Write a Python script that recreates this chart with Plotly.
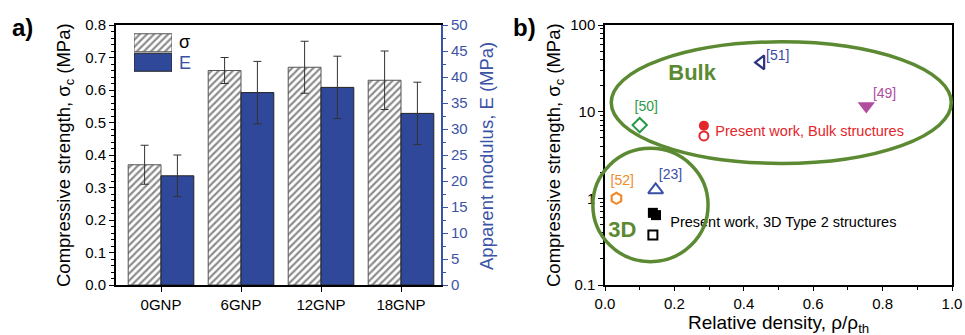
import numpy as np
import plotly.graph_objects as go

# ---------------- data ----------------
categories = ["0GNP", "6GNP", "12GNP", "18GNP"]
sigma = [0.37, 0.66, 0.67, 0.63]
sigma_err = [0.06, 0.04, 0.08, 0.09]
modulus = [21, 37, 38, 33]
modulus_err = [4, 6, 6, 6]

left_ticks = [0.0, 0.1, 0.2, 0.3, 0.4, 0.5, 0.6, 0.7, 0.8]
right_ticks = list(range(0, 55, 5))

# panel b points
ref51_x, ref51_y = [0.45], [37]
ref49_x, ref49_y = [0.753], [11.6]
ref50_x, ref50_y = [0.10], [7.0]
bulk_f_x, bulk_f_y = [0.285], [6.9]
bulk_o_x, bulk_o_y = [0.285], [5.25]
ref52_x, ref52_y = [0.033], [1.0]
ref23_x, ref23_y = [0.146], [1.25]
d3_f_x, d3_f_y = [0.138, 0.147], [0.68, 0.64]
d3_o_x, d3_o_y = [0.138], [0.377]

labels_b = [
    ("[51]", 0.464, 43.2, "#3b4aa3", 14),
    ("[49]", 0.772, 15.6, "#b04d9f", 14),
    ("[50]", 0.085, 11.1, "#2e9a4a", 14),
    ("Present work, Bulk structures", 0.318, 5.73, "#e42529", 14.5),
    ("[52]", 0.016, 1.57, "#f08a2a", 14),
    ("[23]", 0.155, 1.84, "#3b4fa8", 14),
    ("Present work, 3D Type 2 structures", 0.188, 0.515, "#000000", 14.5),
]
group_labels = [("Bulk", 0.251, 26.5), ("3D", 0.050, 0.41)]

# ellipses: (x0, x1, y0, y1) in data units
bulk_ellipse = (0.018, 0.998, 2.53, 64.0)
d3_ellipse = (-0.035, 0.297, 0.186, 3.78)

# ---------------- layout geometry ----------------
W, H = 965, 335
xa_dom = [116 / W, 441 / W]
xb_dom = [605 / W, 952 / W]
y_dom = [1 - 285 / H, 1 - 25 / H]
xb_range = [0.0, 1.0]
yb_range = [-1, 2]

FONT = "Liberation Sans, Arial, sans-serif"
BLUE = "#30489a"
AXBLUE = "#3b53a6"
GREEN = "#5b8a32"
HATCH = dict(shape="/", fgcolor="#1a1a1a", bgcolor="white", size=5, solidity=0.45)

fig = go.Figure()

xpos = list(range(len(categories)))
fig.add_trace(go.Bar(
    x=xpos, y=sigma, offset=-0.41, width=0.41, xaxis="x", yaxis="y",
    marker=dict(color="white", line=dict(color="#555555", width=1), pattern=HATCH),
    error_y=dict(type="data", array=sigma_err, color="#333333", thickness=1, width=4),
    showlegend=False,
))
fig.add_trace(go.Bar(
    x=xpos, y=modulus, offset=0.0, width=0.41, xaxis="x", yaxis="y2",
    marker=dict(color=BLUE, line=dict(color="#222222", width=1)),
    error_y=dict(type="data", array=modulus_err, color="#333333", thickness=1, width=4),
    showlegend=False,
))

# legend swatches (own small axes)
fig.add_trace(go.Bar(
    y=[1], x=[1], orientation="h", width=0.923, xaxis="x3", yaxis="y3",
    marker=dict(color="white", line=dict(color="#555555", width=1), pattern=HATCH),
    showlegend=False, hoverinfo="skip",
))
fig.add_trace(go.Bar(
    y=[0], x=[1], orientation="h", width=0.923, xaxis="x3", yaxis="y3",
    marker=dict(color=BLUE, line=dict(color="#222222", width=1)),
    showlegend=False, hoverinfo="skip",
))

def pts(x, y, symbol, color, size, lw=2, fill=None):
    return go.Scatter(
        x=x, y=y, mode="markers", xaxis="x2", yaxis="y4", cliponaxis=False,
        marker=dict(symbol=symbol, size=size, color=fill if fill else color,
                    line=dict(color=color, width=lw)),
        showlegend=False,
    )

fig.add_trace(pts(ref51_x, ref51_y, "triangle-left-open", "#2b3284", 12, 2.2))
fig.add_trace(pts(ref49_x, ref49_y, "triangle-down", "#b04d9f", 15, 0))
fig.add_trace(pts(ref50_x, ref50_y, "diamond-open", "#239a48", 11, 2))
fig.add_trace(pts(bulk_f_x, bulk_f_y, "circle", "#e42529", 10, 0))
fig.add_trace(pts(bulk_o_x, bulk_o_y, "circle-open", "#e42529", 9, 2))
fig.add_trace(pts(ref52_x, ref52_y, "hexagon-open", "#f08a2a", 11, 2.2))
fig.add_trace(pts(ref23_x, ref23_y, "triangle-up-open", "#3b4fa8", 13, 2))
fig.add_trace(pts(d3_f_x, d3_f_y, "square", "#000000", 10, 0))
fig.add_trace(pts(d3_o_x, d3_o_y, "square-open", "#000000", 9, 2))

for txt, x, y, col, fs in labels_b:
    fig.add_trace(go.Scatter(
        x=[x], y=[y], mode="text", text=[txt], textposition="middle right",
        xaxis="x2", yaxis="y4", cliponaxis=False, showlegend=False,
        textfont=dict(family=FONT, size=fs, color=col),
    ))
for txt, x, y in group_labels:
    fig.add_trace(go.Scatter(
        x=[x], y=[y], mode="text", text=[f"<b>{txt}</b>"], textposition="middle center",
        xaxis="x2", yaxis="y4", cliponaxis=False, showlegend=False,
        textfont=dict(family=FONT, size=22, color=GREEN),
    ))

# ellipses in paper coordinates
def to_paper_x(v):
    return xb_dom[0] + (v - xb_range[0]) / (xb_range[1] - xb_range[0]) * (xb_dom[1] - xb_dom[0])

def to_paper_y(v):
    return y_dom[0] + (np.log10(v) - yb_range[0]) / (yb_range[1] - yb_range[0]) * (y_dom[1] - y_dom[0])

shapes = []
for (ex0, ex1, ey0, ey1) in (bulk_ellipse, d3_ellipse):
    shapes.append(dict(type="circle", xref="paper", yref="paper",
                       x0=to_paper_x(ex0), x1=to_paper_x(ex1),
                       y0=to_paper_y(ey0), y1=to_paper_y(ey1),
                       line=dict(color=GREEN, width=3.5), layer="above"))

tickfont = dict(family=FONT, size=15, color="black")

fig.update_layout(
    width=W, height=H, margin=dict(l=0, r=0, t=0, b=0, pad=0, autoexpand=False),
    paper_bgcolor="white", plot_bgcolor="white",
    barmode="overlay", showlegend=False,
    font=dict(family=FONT, color="black"),
    shapes=shapes,
    xaxis=dict(domain=xa_dom, range=[-0.5625, 3.5], tickvals=xpos, ticktext=categories,
               showline=True, linecolor="black", linewidth=2, mirror=True,
               ticks="outside", ticklen=5, tickwidth=1, tickcolor="black", automargin=False,
               showgrid=False, zeroline=False, tickfont=tickfont, anchor="y"),
    yaxis=dict(domain=y_dom, range=[0, 0.8], tickvals=left_ticks,
               ticktext=[f"{v:.1f}" for v in left_ticks],
               showline=True, linecolor="black", linewidth=2, automargin=False,
               ticks="outside", ticklen=5, tickwidth=1, tickcolor="black",
               minor=dict(dtick=0.02, ticklen=3, ticks="outside", tickcolor="black", showgrid=False),
               showgrid=False, zeroline=False, tickfont=tickfont, anchor="x"),
    yaxis2=dict(domain=y_dom, range=[0, 50], tickvals=right_ticks, overlaying="y", side="right",
                anchor="x", showline=True, linecolor=AXBLUE, linewidth=2, automargin=False,
                ticks="outside", ticklen=5, tickwidth=1, tickcolor=AXBLUE,
                minor=dict(dtick=2.5, ticklen=3, ticks="outside", tickcolor=AXBLUE, showgrid=False),
                showgrid=False, zeroline=False, tickfont=dict(family=FONT, size=15, color=AXBLUE)),
    xaxis3=dict(domain=[134 / W, 172 / W], range=[0, 1], visible=False, anchor="y3",
                fixedrange=True, automargin=False),
    yaxis3=dict(domain=[1 - 72 / H, 1 - 33 / H], range=[-0.5, 1.5], visible=False, anchor="x3",
                fixedrange=True, automargin=False),
    xaxis2=dict(domain=xb_dom, range=xb_range, dtick=0.2, tickformat=".1f",
                showline=True, linecolor="black", linewidth=1.5, mirror=True, automargin=False,
                ticks="outside", ticklen=4, tickwidth=1, tickcolor="black",
                minor=dict(dtick=0.1, ticklen=3, ticks="outside", tickcolor="black", showgrid=False),
                showgrid=False, zeroline=False, tickfont=tickfont, anchor="y4"),
    yaxis4=dict(domain=y_dom, type="log", range=yb_range, dtick=1,
                showline=True, linecolor="black", linewidth=1.5, mirror=True, automargin=False,
                ticks="outside", ticklen=5, tickwidth=1, tickcolor="black",
                minor=dict(dtick="D1", ticklen=3, ticks="outside", tickcolor="black", showgrid=False),
                showgrid=False, zeroline=False, tickfont=tickfont, anchor="x2"),
)

ann = []
def add_text(text, x_px, y_px, size, color="black", angle=0, bold=False):
    ann.append(dict(text=f"<b>{text}</b>" if bold else text, xref="paper", yref="paper",
                    x=x_px / W, y=1 - y_px / H, xanchor="center", yanchor="middle",
                    showarrow=False, textangle=angle,
                    font=dict(family=FONT, size=size, color=color)))

add_text("Compressive strength, σ<sub>c</sub> (MPa)", 65, 155, 18.5, angle=-90)
add_text("Apparent modulus, E (MPa)", 487, 156, 18.5, color=AXBLUE, angle=-90)
add_text("Compressive strength, σ<sub>c</sub> (MPa)", 555, 155, 18.5, angle=-90)
add_text("Relative density, ρ/ρ<sub>th</sub>", 778, 324, 19)
add_text("a)", 22, 28, 24, bold=True)
add_text("b)", 524, 28, 24, bold=True)
ann.append(dict(text="σ", xref="paper", yref="paper", x=177 / W, y=1 - 42 / H,
                xanchor="left", yanchor="middle", showarrow=False,
                font=dict(family=FONT, size=18, color="black")))
ann.append(dict(text="E", xref="paper", yref="paper", x=177 / W, y=1 - 63 / H,
                xanchor="left", yanchor="middle", showarrow=False,
                font=dict(family=FONT, size=18, color=AXBLUE)))
fig.update_layout(annotations=ann)

fig.write_html(
    "out.html",
    config={"displayModeBar": False},
    post_script="document.body.style.margin='0';document.body.style.overflow='hidden';",
)
